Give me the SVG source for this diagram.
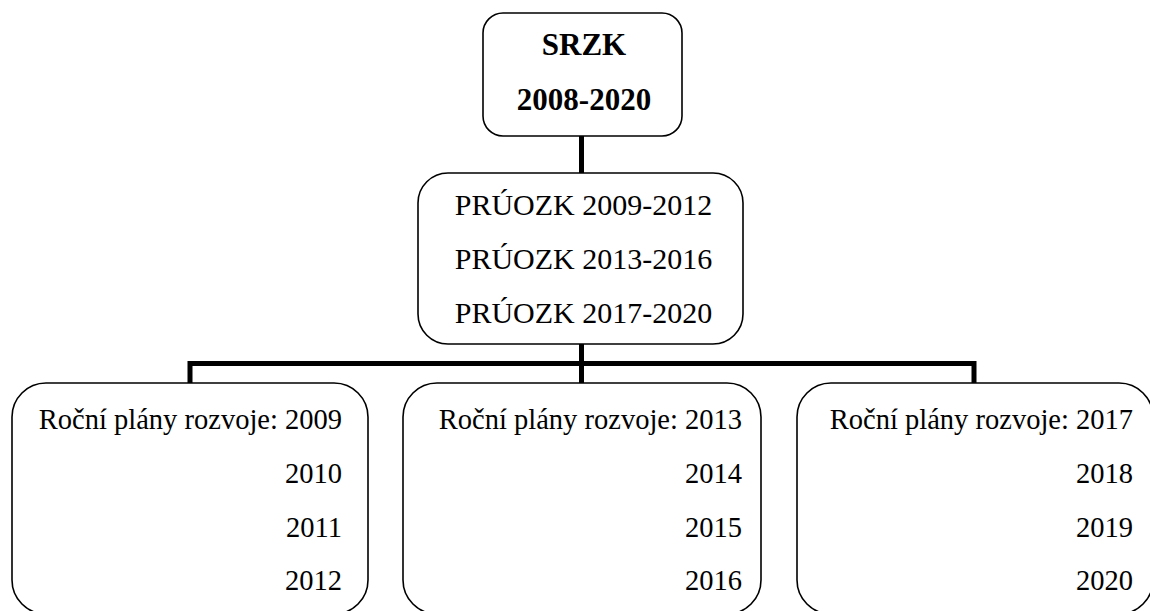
<svg xmlns="http://www.w3.org/2000/svg" width="1150" height="611" viewBox="0 0 1150 611">
<style>
.box{fill:#fff;stroke:#000;stroke-width:1.6}
.conn{stroke:#000;stroke-width:5;fill:none;stroke-linecap:butt}
.t{font-family:"Liberation Serif","Times New Roman",serif;font-size:28.5px;fill:#000}
.m{font-size:30px}
.b{font-family:"Liberation Serif","Times New Roman",serif;font-size:31px;font-weight:bold;fill:#000}
.c{text-anchor:middle}
.r{text-anchor:end}
</style>
<rect width="1150" height="611" fill="#fff"/>
<g id="connectors">
<line class="conn" x1="581.5" y1="136" x2="581.5" y2="173"/>
<line class="conn" x1="581.5" y1="344" x2="581.5" y2="383"/>
<polyline class="conn" points="190,383 190,363.5 974,363.5 974,383"/>
</g>
<g id="node-srzk">
<rect class="box" x="483" y="13" width="199" height="123" rx="20"/>
<text class="b c" x="584" y="55">SRZK</text>
<text class="b c" x="584" y="110">2008-2020</text>
</g>
<g id="node-pruozk">
<rect class="box" x="418" y="173" width="325" height="171" rx="30"/>
<text class="t m c" x="583.5" y="215">PRÚOZK 2009-2012</text>
<text class="t m c" x="583.5" y="269">PRÚOZK 2013-2016</text>
<text class="t m c" x="583.5" y="323">PRÚOZK 2017-2020</text>
</g>
<g id="node-plan1">
<rect class="box" x="12" y="383" width="356" height="231" rx="34"/>
<text class="t r" x="342" y="429">Roční plány rozvoje: 2009</text>
<text class="t r" x="342" y="483">2010</text>
<text class="t r" x="342" y="537">2011</text>
<text class="t r" x="342" y="590">2012</text>
</g>
<g id="node-plan2">
<rect class="box" x="403" y="383" width="358" height="231" rx="34"/>
<text class="t r" x="742" y="429">Roční plány rozvoje: 2013</text>
<text class="t r" x="742" y="483">2014</text>
<text class="t r" x="742" y="537">2015</text>
<text class="t r" x="742" y="590">2016</text>
</g>
<g id="node-plan3">
<rect class="box" x="797" y="383" width="356" height="231" rx="34"/>
<text class="t r" x="1133" y="429">Roční plány rozvoje: 2017</text>
<text class="t r" x="1133" y="483">2018</text>
<text class="t r" x="1133" y="537">2019</text>
<text class="t r" x="1133" y="590">2020</text>
</g>
</svg>
